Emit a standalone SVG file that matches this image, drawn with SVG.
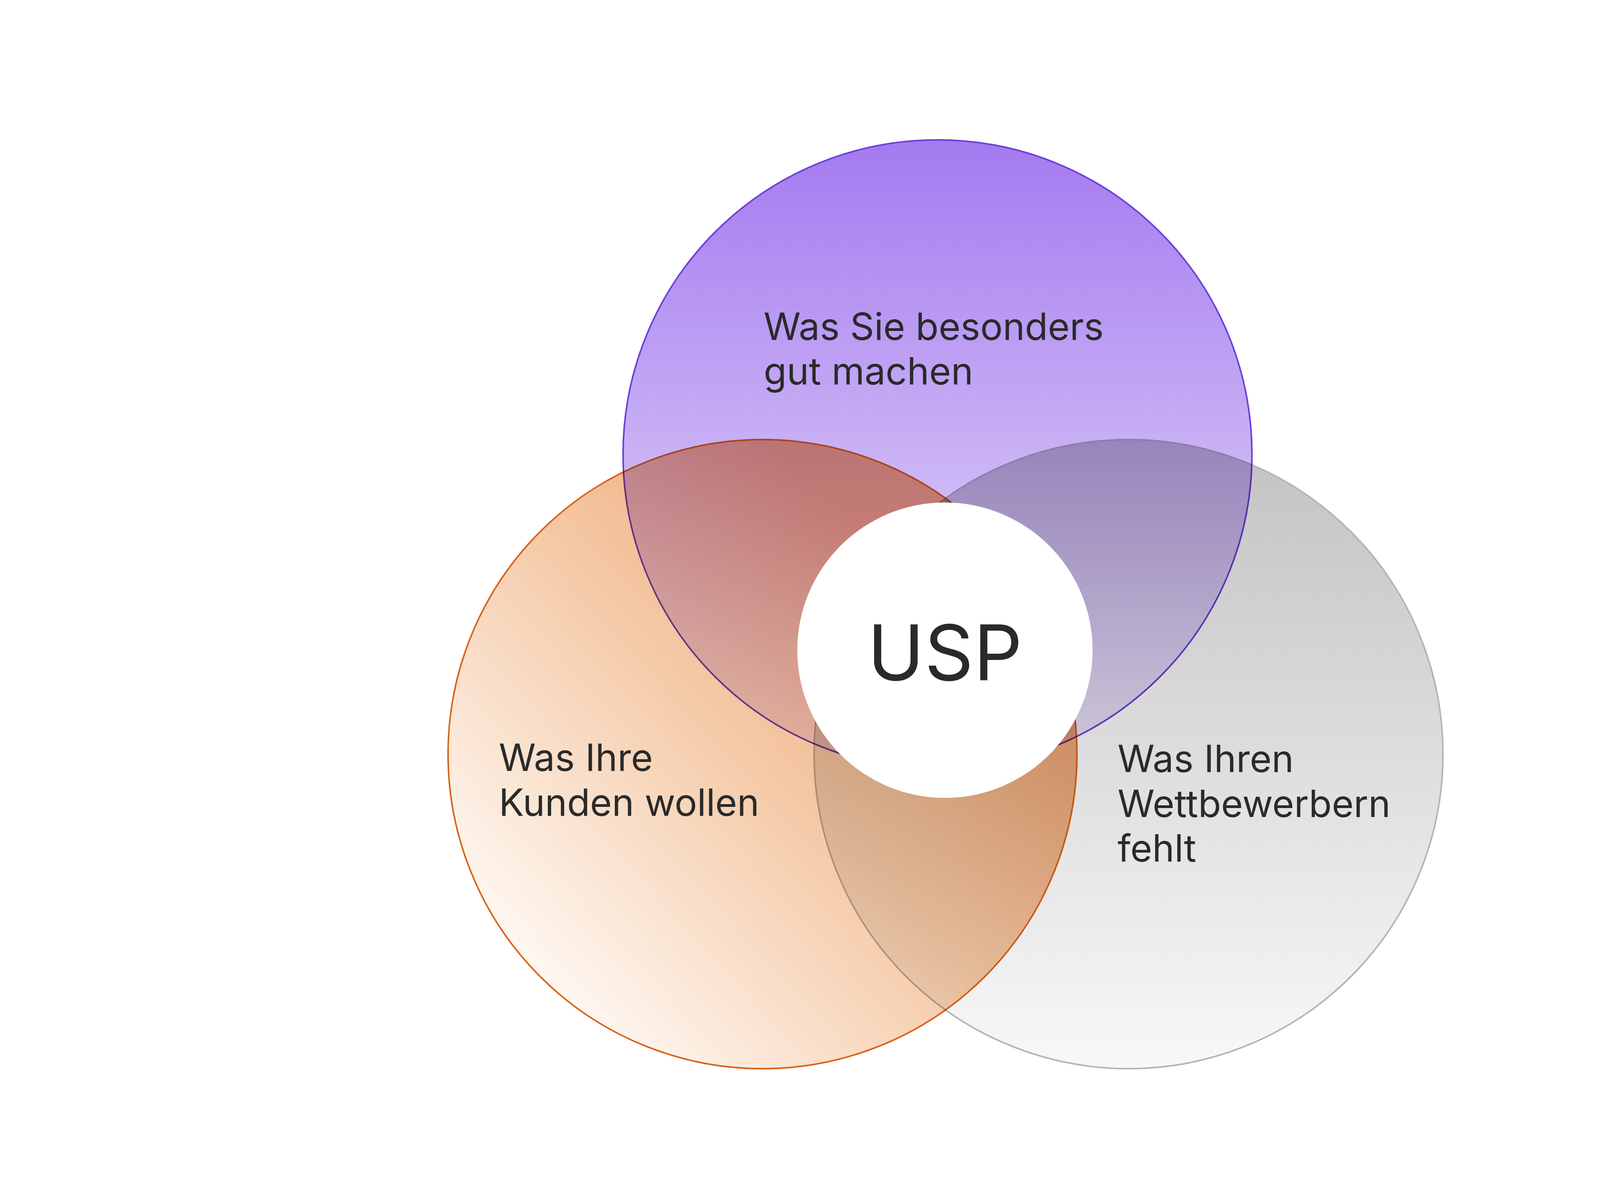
<svg xmlns="http://www.w3.org/2000/svg" width="4800" height="3066" viewBox="0 0 4800 3066">
<style>
.t{font-family:Inter,"Liberation Sans",sans-serif;font-size:96px;fill:#2a2a2a}
.c{mix-blend-mode:multiply;stroke-width:4}
</style>
<defs>
<linearGradient id="gp" x1="0" y1="0" x2="0" y2="1"><stop offset="0" stop-color="#A47AF0"/><stop offset="1" stop-color="#EEE8FB"/></linearGradient>
<linearGradient id="go" x1="0.1" y1="0.85" x2="0.75" y2="0.25"><stop offset="0" stop-color="#FFFAF6"/><stop offset="0.6" stop-color="#F4C8A4"/><stop offset="1" stop-color="#EFA878"/></linearGradient>
<linearGradient id="gg" x1="0" y1="0" x2="0" y2="1"><stop offset="0" stop-color="#C2C2C2"/><stop offset="1" stop-color="#F8F8F8"/></linearGradient>
</defs>
<rect width="4800" height="3066" fill="#fff"/>
<g id="competitors"><circle class="c" cx="2889" cy="1930" r="805" fill="url(#gg)" stroke="#B4B4B4"/></g>
<g id="customers"><circle class="c" cx="1952" cy="1930" r="805" fill="url(#go)" stroke="#D9621A"/></g>
<g id="strengths"><circle class="c" cx="2400" cy="1163" r="805" fill="url(#gp)" stroke="#6B3FD9"/></g>
<g id="usp"><circle cx="2419" cy="1664" r="378" fill="#fff"/>
<text class="t" x="2419" y="1741" text-anchor="middle" font-size="196" style="font-size:196px">USP</text></g>
<g id="labels">
<text class="t" x="1955" y="870">Was Sie besonders</text>
<text class="t" x="1955" y="984">gut machen</text>
<text class="t" x="1277" y="1973">Was Ihre</text>
<text class="t" x="1277" y="2088">Kunden wollen</text>
<text class="t" x="2861" y="1976">Was Ihren</text>
<text class="t" x="2861" y="2091">Wettbewerbern</text>
<text class="t" x="2861" y="2205">fehlt</text>
</g>
<g id="connectors"/>
</svg>
